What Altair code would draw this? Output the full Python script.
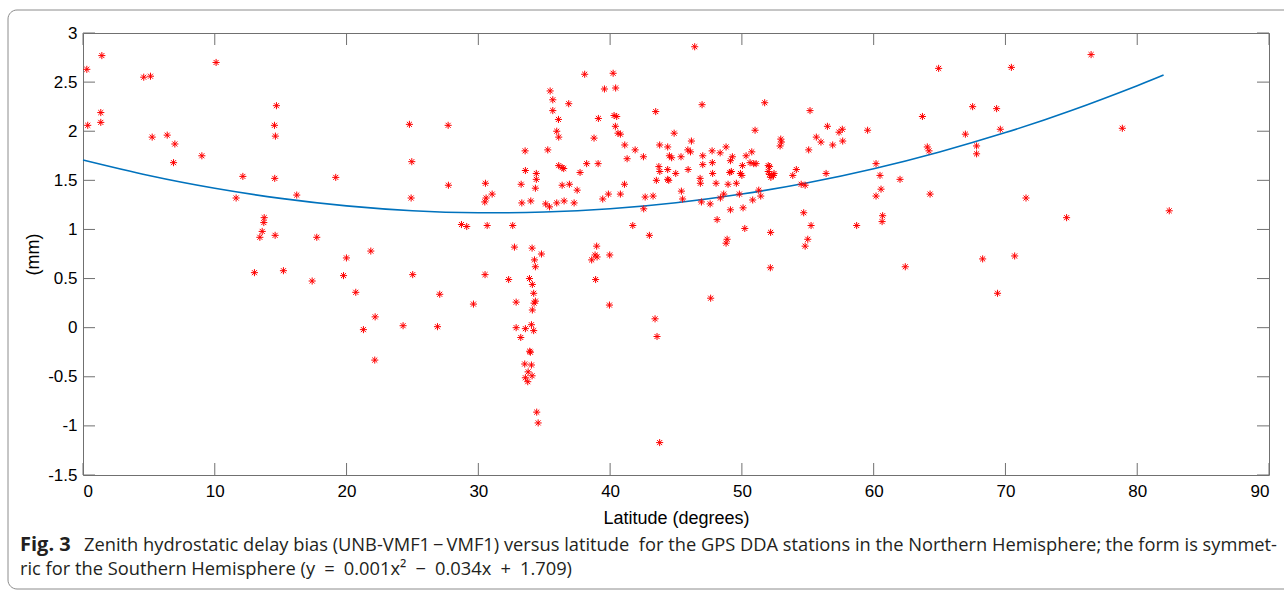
import altair as alt
import pandas as pd

# ---- station points (latitude in degrees, ZHD bias in mm) ----
lat = [0.29, 1.43, 0.36, 1.35, 1.35, 4.61, 5.12, 5.25, 6.39, 6.97, 6.87, 9.02, 10.1, 12.13, 11.62,
       14.68, 14.53, 14.6, 14.55, 16.22, 13.75, 13.72, 13.6, 13.42, 14.58, 13.01, 15.21,
       19.18, 17.74, 19.99, 21.84, 24.77, 27.71, 24.95, 24.9, 27.73, 28.72, 29.12, 30.54, 31.05,
       30.59, 30.49, 30.67, 17.39, 19.77, 20.7, 22.17, 21.28, 24.29, 25.02, 27.07, 26.9, 29.63,
       30.51, 32.3, 22.14,
       38.07, 40.23, 46.42, 35.45, 35.65, 36.86, 39.57, 40.42, 35.65, 36.08, 39.11, 40.3, 40.5,
       40.4, 40.6, 40.78, 43.46, 35.95, 36.1, 38.78, 33.55, 35.27, 41.11, 41.9, 42.53, 41.29,
       44.86, 43.76, 44.37, 46.17, 45.9, 46.1, 44.5, 44.67, 45.38, 33.57, 34.4, 34.4, 34.33,
       33.25, 36.1, 36.36, 36.48, 38.22, 39.09, 37.72, 36.36, 36.91, 37.5, 41.09, 43.7, 43.77,
       44.37, 44.98, 43.51, 44.37, 44.45, 45.92, 45.41, 45.5, 39.87, 39.44, 40.78, 42.66, 43.26,
       42.55, 33.3, 33.98, 35.11, 35.4, 35.95, 36.51, 37.27, 32.61, 41.72, 42.98, 32.74, 34.08,
       34.79, 34.26, 34.33, 38.98, 38.86, 39.01, 38.6, 39.97,
       33.88, 34.1, 38.9, 34.2, 34.33, 34.23, 34.1, 32.87, 39.95, 32.87, 33.57, 34.03, 34.2,
       33.22, 33.9, 33.95, 33.52, 34.03, 33.78, 33.57, 34.08, 33.75, 34.43, 34.54, 43.41, 43.56,
       43.76,
       46.98, 51.73, 55.17, 51.0, 52.95, 53.0, 52.9, 56.49, 55.65, 56.0, 57.37, 57.62, 57.65,
       56.89, 59.54, 55.07, 47.03, 47.03, 47.74, 48.35, 48.8, 47.76, 49.28, 49.13, 47.78, 50.04,
       50.32, 50.75, 50.62, 50.9, 51.08, 52.0, 52.1, 49.08, 49.2, 49.89, 50.0, 52.0, 52.09, 52.2,
       52.4, 52.44, 46.83, 46.85, 48.04, 48.95, 49.58, 53.86, 54.13, 56.39, 54.5, 54.8, 48.37,
       48.62, 49.81, 51.28, 51.43, 46.93, 47.59, 50.82, 49.13, 50.09, 54.69, 60.18, 60.48, 62.0,
       60.56, 60.18, 48.12, 50.22, 55.25, 58.71, 60.68, 60.64, 52.18, 48.88, 48.8, 55.0, 54.8,
       52.16, 62.4, 47.63,
       64.93, 70.45, 76.5, 67.51, 69.33, 63.7, 69.61, 78.87, 66.96, 64.07, 64.2, 67.81, 67.81,
       64.28, 71.56, 74.64, 82.43, 68.27, 70.7, 69.4]

bias = [2.63, 2.77, 2.06, 2.19, 2.09, 2.55, 2.56, 1.94, 1.96, 1.87, 1.68, 1.75, 2.70, 1.54, 1.32,
        2.26, 2.06, 1.95, 1.52, 1.35, 1.12, 1.07, 0.98, 0.92, 0.94, 0.56, 0.58,
        1.53, 0.92, 0.71, 0.78, 2.07, 2.06, 1.69, 1.32, 1.45, 1.05, 1.03, 1.47, 1.36,
        1.32, 1.28, 1.04, 0.475, 0.53, 0.36, 0.11, -0.02, 0.02, 0.54, 0.34, 0.01, 0.24,
        0.54, 0.49, -0.33,
        2.58, 2.59, 2.86, 2.41, 2.32, 2.28, 2.43, 2.44, 2.21, 2.12, 2.13, 2.16, 2.15,
        2.05, 1.98, 1.97, 2.20, 2.00, 1.94, 1.93, 1.80, 1.81, 1.86, 1.81, 1.74, 1.72,
        1.98, 1.86, 1.84, 1.90, 1.81, 1.79, 1.75, 1.73, 1.74, 1.60, 1.57, 1.51, 1.42,
        1.46, 1.65, 1.63, 1.62, 1.67, 1.67, 1.58, 1.45, 1.46, 1.40, 1.46, 1.64, 1.59,
        1.61, 1.57, 1.50, 1.51, 1.50, 1.61, 1.39, 1.31, 1.36, 1.31, 1.36, 1.33, 1.34,
        1.21, 1.27, 1.29, 1.26, 1.23, 1.27, 1.29, 1.27, 1.04, 1.04, 0.94, 0.82, 0.81,
        0.75, 0.69, 0.62, 0.83, 0.74, 0.72, 0.69, 0.74,
        0.50, 0.44, 0.49, 0.35, 0.27, 0.25, 0.18, 0.26, 0.23, 0.00, -0.01, 0.03, -0.03,
        -0.10, -0.24, -0.25, -0.37, -0.38, -0.45, -0.51, -0.49, -0.55, -0.86, -0.97, 0.09, -0.09,
        -1.17,
        2.27, 2.29, 2.21, 2.01, 1.92, 1.89, 1.85, 2.05, 1.94, 1.89, 1.99, 2.02, 1.90,
        1.86, 2.01, 1.81, 1.75, 1.66, 1.80, 1.78, 1.84, 1.68, 1.74, 1.70, 1.57, 1.65,
        1.75, 1.79, 1.68, 1.67, 1.67, 1.65, 1.64, 1.58, 1.59, 1.57, 1.55, 1.59, 1.56, 1.53,
        1.55, 1.57, 1.52, 1.47, 1.47, 1.46, 1.47, 1.55, 1.61, 1.57, 1.46, 1.45, 1.32,
        1.36, 1.36, 1.40, 1.34, 1.28, 1.26, 1.30, 1.20, 1.22, 1.17, 1.67, 1.55, 1.51,
        1.41, 1.34, 1.10, 1.01, 1.04, 1.04, 1.14, 1.08, 0.97, 0.90, 0.86, 0.90, 0.83,
        0.61, 0.62, 0.30,
        2.64, 2.65, 2.78, 2.25, 2.23, 2.15, 2.02, 2.03, 1.97, 1.84, 1.80, 1.85, 1.77,
        1.36, 1.32, 1.12, 1.19, 0.70, 0.73, 0.35]

# ---- fitted curve ----
fit_lat = [0, 5, 10, 15, 20, 25, 30, 35, 40, 45, 50, 55, 60, 65, 70, 75, 80, 82]
fit_bias = [1.707, 1.549, 1.419, 1.316, 1.240, 1.191, 1.170, 1.177, 1.210, 1.271, 1.360,
            1.475, 1.618, 1.789, 1.986, 2.211, 2.464, 2.572]

x_ticks = [0, 10, 20, 30, 40, 50, 60, 70, 80, 90]
y_ticks = [-1.5, -1, -0.5, 0, 0.5, 1, 1.5, 2, 2.5, 3]

x_title = "Latitude (degrees)"
y_title = "(mm)"
cap_bold = "Fig. 3"
cap_1a = "Zenith hydrostatic delay bias (UNB-VMF1\u2009\u2212\u2009VMF1) versus latitude"
cap_1b = "for the GPS DDA stations in the Northern Hemisphere;"
cap_1c = "the form is symmet-"
cap_2 = "ric for the Southern Hemisphere (y\u2002=\u20020.001x\u00b2\u2002\u2212\u20020.034x\u2002+\u20021.709)"

W, H = 1186, 442
PAD_L, PAD_T = 83, 33
TICK = 12
AX = "#707070"

pts = pd.DataFrame({"lat": lat, "bias": bias})
fit = pd.DataFrame({"lat": fit_lat, "bias": fit_bias})
xt = pd.DataFrame({"t": x_ticks})
yt = pd.DataFrame({"t": y_ticks})

xs = alt.Scale(domain=[0, 90], nice=False, zero=False)
ys = alt.Scale(domain=[-1.5, 3], nice=False, zero=False)

x_axis = alt.Axis(values=x_ticks, ticks=False, tickSize=0, domain=False, grid=False,
                  labelExpr="'' + datum.value",
                  labelFont="Liberation Sans", labelFontSize=17, labelColor="#000000",
                  labelPadding=8, title=x_title, titleFont="Liberation Sans",
                  titleFontSize=18, titleFontWeight="normal", titleColor="#000000",
                  titleY=43, titleBaseline="middle")
y_axis = alt.Axis(values=y_ticks, ticks=False, tickSize=0, domain=False, grid=False,
                  labelExpr="'' + datum.value",
                  labelFont="Liberation Sans", labelFontSize=17, labelColor="#000000",
                  labelPadding=6, title=y_title, titleFont="Liberation Sans",
                  titleFontSize=18, titleFontWeight="normal", titleColor="#000000",
                  titleX=-50, titleY=H / 2, titleBaseline="middle", titleAlign="center")

ASTERISK = "M-1,0L1,0M0,-1L0,1M-0.71,-0.71L0.71,0.71M-0.71,0.71L0.71,-0.71"

points = alt.Chart(pts).mark_point(shape=ASTERISK, filled=False, stroke="#ff0000",
                                   strokeWidth=1.0, size=50, opacity=1).encode(
    x=alt.X("lat:Q", scale=xs, axis=x_axis),
    y=alt.Y("bias:Q", scale=ys, axis=y_axis),
)

curve = alt.Chart(fit).mark_line(color="#0072BD", strokeWidth=1.6, interpolate="natural").encode(
    x=alt.X("lat:Q", scale=xs),
    y=alt.Y("bias:Q", scale=ys),
)

xt_bot = alt.Chart(xt).mark_rule(color=AX, strokeWidth=1).encode(
    x=alt.X("t:Q", scale=xs), y=alt.value(H), y2=alt.value(H - TICK))
xt_top = alt.Chart(xt).mark_rule(color=AX, strokeWidth=1).encode(
    x=alt.X("t:Q", scale=xs), y=alt.value(0), y2=alt.value(TICK))
yt_left = alt.Chart(yt).mark_rule(color=AX, strokeWidth=1).encode(
    y=alt.Y("t:Q", scale=ys), x=alt.value(0), x2=alt.value(TICK))
yt_right = alt.Chart(yt).mark_rule(color=AX, strokeWidth=1).encode(
    y=alt.Y("t:Q", scale=ys), x=alt.value(W), x2=alt.value(W - TICK))

one = pd.DataFrame({"a": [cap_bold], "b": [cap_1a], "c": [cap_1b], "e": [cap_1c], "d": [cap_2]})

frame = alt.Chart(one).mark_rect(fill="#ffffff", fillOpacity=0, stroke="#8c8c8c",
                                 strokeWidth=1, cornerRadius=9).encode(
    x=alt.value(8 - PAD_L), x2=alt.value(1296 - PAD_L),
    y=alt.value(10 - PAD_T), y2=alt.value(589 - PAD_T))

cap_font = "Open Sans"
FS = 18.3
CAPC = "#231f20"
L1 = 551 - PAD_T
L2 = 575 - PAD_T


def cap_text(field, x, align, size=FS, weight="normal", y=L1):
    return alt.Chart(one).mark_text(font=cap_font, fontSize=size, fontWeight=weight, align=align,
                                    baseline="alphabetic", color=CAPC).encode(
        text=f"{field}:N", x=alt.value(x - PAD_L), y=alt.value(y))


t_bold = cap_text("a", 20, "left", size=20, weight="bold")
t1a = cap_text("b", 84, "left")
t1b = cap_text("c", 870, "center")
t1c = cap_text("e", 1277, "right")
t2 = cap_text("d", 20, "left", y=L2)

chart = alt.layer(frame, curve, points, xt_bot, xt_top, yt_left, yt_right,
                  t_bold, t1a, t1b, t1c, t2).properties(
    width=W, height=H,
    autosize=alt.AutoSizeParams(type="none"),
    padding={"left": PAD_L, "top": PAD_T, "right": 1284 - PAD_L - W, "bottom": 592 - PAD_T - H},
    background="#ffffff",
).configure_view(stroke=AX, strokeWidth=1)

chart.save("out.html", embed_options={"renderer": "svg", "actions": False})
